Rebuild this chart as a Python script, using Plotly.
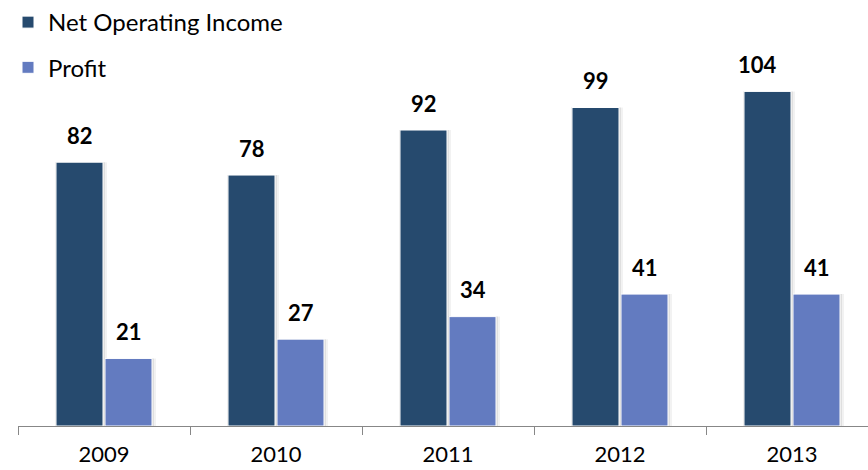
import plotly.graph_objects as go

# Annual figures
years = ["2009", "2010", "2011", "2012", "2013"]
net_operating_income = [82, 78, 92, 99, 104]
profit = [21, 27, 34, 41, 41]

NOI_COLOR = "#264a6e"
PROFIT_COLOR = "#637bc0"
FONT = "Lato"

CAT_PX = 172.0          # pixel width of one category slot
BAR_W = 47 / CAT_PX     # bar width in category units
NOI_OFF = -48 / CAT_PX
PROFIT_OFF = 1 / CAT_PX

fig = go.Figure()

# soft drop shadow behind every bar
for vals, off in ((net_operating_income, NOI_OFF), (profit, PROFIT_OFF)):
    for grow, alpha in ((5, 0.05), (3, 0.08)):
        fig.add_trace(go.Bar(
            x=years, y=vals,
            offset=off - 1 / CAT_PX, width=BAR_W + grow / CAT_PX,
            marker=dict(color=f"rgba(0,0,0,{alpha})", line=dict(width=0)),
            showlegend=False, hoverinfo="skip",
        ))

fig.add_trace(go.Bar(
    x=years, y=net_operating_income, name="Net Operating Income",
    offset=NOI_OFF, width=BAR_W, legendgroup="a",
    marker=dict(color=NOI_COLOR, line=dict(color="white", width=1)),
))
fig.add_trace(go.Bar(
    x=years, y=profit, name="Profit",
    offset=PROFIT_OFF, width=BAR_W, legendgroup="b",
    marker=dict(color=PROFIT_COLOR, line=dict(color="white", width=1)),
))

# value labels above the bars (x given as category index)
label_font = dict(family=FONT, size=22, color="black", weight="bold")
for i, yr in enumerate(years):
    for vals, off, nudge in ((net_operating_income, NOI_OFF, -10 if i == 4 else 0),
                             (profit, PROFIT_OFF, 0)):
        center_px = (off + BAR_W / 2) * CAT_PX
        fig.add_annotation(
            x=i, y=vals[i], xref="x", yref="y", text=str(vals[i]), showarrow=False,
            xshift=center_px + nudge, yshift=27, yanchor="middle",
            font=label_font,
        )

PLOT_W = 850
PLOT_H = 426
fig.update_layout(
    width=868, height=470,
    margin=dict(l=18, r=0, t=0, b=44),
    paper_bgcolor="white", plot_bgcolor="white",
    barmode="overlay",
    font=dict(family=FONT, size=22, color="black"),
    showlegend=True,
    legend=dict(
        x=-10 / PLOT_W, y=1 + 3 / PLOT_H, xanchor="left", yanchor="top",
        font=dict(family=FONT, size=24, color="black"),
        tracegroupgap=11, bgcolor="rgba(0,0,0,0)",
    ),
    xaxis=dict(
        type="category", automargin=False,
        range=[-0.5, -0.5 + PLOT_W / CAT_PX],
        showline=True, linecolor="#878787", linewidth=1,
        ticks="outside", tickson="boundaries", ticklen=8, tickcolor="#878787",
        ticklabelstandoff=9, showgrid=False, zeroline=False,
        tickfont=dict(family=FONT, size=22, color="black"),
    ),
    yaxis=dict(
        range=[0, PLOT_H / 3.24], visible=False, showgrid=False, zeroline=False,
        automargin=False,
    ),
)

fig.write_html("out.html")
